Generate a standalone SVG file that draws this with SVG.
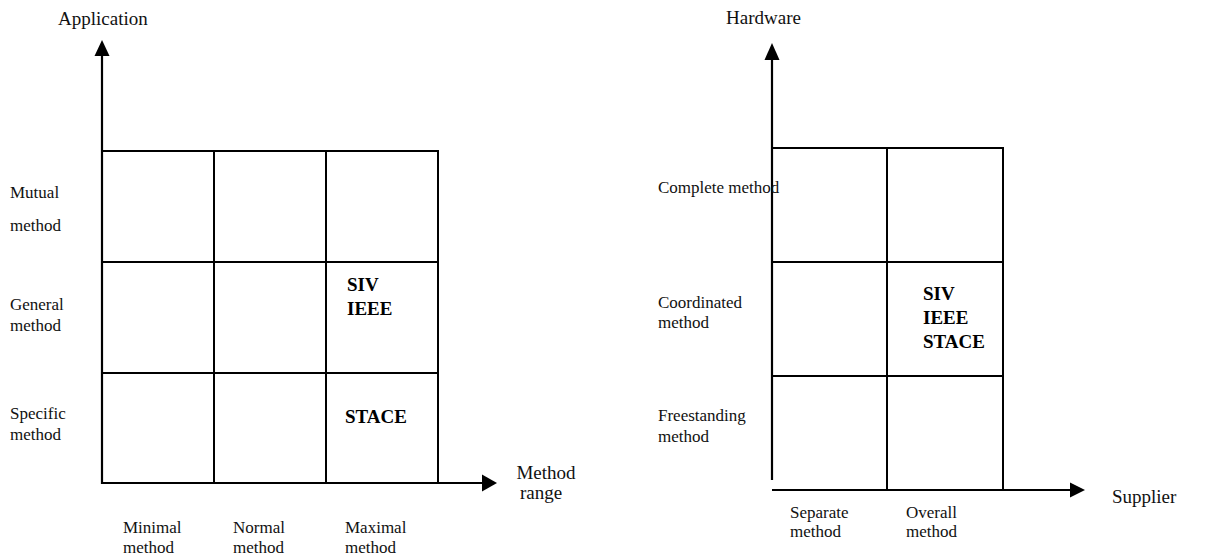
<svg xmlns="http://www.w3.org/2000/svg" width="1214" height="558" viewBox="0 0 1214 558">
  <style>
    .bg { fill: #ffffff; }
    .grid { stroke: #000; stroke-width: 2; fill: none; stroke-linecap: square; }
    .axis { stroke: #000; stroke-width: 2.2; fill: none; }
    .head { fill: #000; }
    .lbl { font-family: "Liberation Serif", "Times New Roman", serif; font-size: 17px; fill: #111; }
    .ttl { font-family: "Liberation Serif", "Times New Roman", serif; font-size: 19px; fill: #111; }
    .tag { font-family: "Liberation Serif", "Times New Roman", serif; font-size: 19px; font-weight: bold; fill: #000; }
  </style>
  <rect class="bg" x="0" y="0" width="1214" height="558"/>

  <!-- Axes with arrowheads -->
  <g id="connectors">
    <line class="axis" x1="102" y1="484" x2="102" y2="54"/>
    <polygon class="head" points="102,40 94.5,56 109.5,56"/>
    <line class="axis" x1="102" y1="483" x2="484" y2="483"/>
    <polygon class="head" points="497,483 482,474.5 482,491.5"/>

    <line class="axis" x1="772" y1="480" x2="772" y2="58"/>
    <polygon class="head" points="772,43 764.5,60 779.5,60"/>
    <line class="axis" x1="772" y1="490" x2="1072" y2="490"/>
    <polygon class="head" points="1085,490 1070,482.5 1070,497.5"/>
  </g>

  <!-- Left matrix: application vs method range -->
  <g id="matrix-left">
    <polyline class="grid" points="102,151 438,151 438,483"/>
    <line class="grid" x1="214" y1="151" x2="214" y2="483"/>
    <line class="grid" x1="326" y1="151" x2="326" y2="483"/>
    <line class="grid" x1="102" y1="262" x2="438" y2="262"/>
    <line class="grid" x1="102" y1="373" x2="438" y2="373"/>
  </g>

  <!-- Right matrix: hardware vs supplier -->
  <g id="matrix-right">
    <polyline class="grid" points="772,148 1003,148 1003,490"/>
    <line class="grid" x1="887" y1="148" x2="887" y2="490"/>
    <line class="grid" x1="772" y1="262" x2="1003" y2="262"/>
    <line class="grid" x1="772" y1="376" x2="1003" y2="376"/>
  </g>

  <!-- Left axis titles and row/column labels -->
  <g id="labels-left">
    <text class="ttl" x="58" y="25">Application</text>
    <text class="lbl" x="10" y="198">Mutual</text>
    <text class="lbl" x="10" y="231">method</text>
    <text class="lbl" x="10" y="310">General</text>
    <text class="lbl" x="10" y="331">method</text>
    <text class="lbl" x="10" y="419">Specific</text>
    <text class="lbl" x="10" y="440">method</text>
    <text class="lbl" x="123" y="533">Minimal</text>
    <text class="lbl" x="123" y="553">method</text>
    <text class="lbl" x="233" y="533">Normal</text>
    <text class="lbl" x="233" y="553">method</text>
    <text class="lbl" x="345" y="533">Maximal</text>
    <text class="lbl" x="345" y="553">method</text>
    <text class="ttl" x="546" y="479" text-anchor="middle">Method</text>
    <text class="ttl" x="541" y="499" text-anchor="middle">range</text>
  </g>

  <g id="cell-left-general-max">
    <text class="tag" x="347" y="291">SIV</text>
    <text class="tag" x="347" y="315">IEEE</text>
  </g>
  <g id="cell-left-specific-max">
    <text class="tag" x="345" y="423">STACE</text>
  </g>

  <!-- Right axis titles and row/column labels -->
  <g id="labels-right">
    <text class="ttl" x="726" y="24">Hardware</text>
    <text class="lbl" x="658" y="193">Complete method</text>
    <text class="lbl" x="658" y="308">Coordinated</text>
    <text class="lbl" x="658" y="328">method</text>
    <text class="lbl" x="658" y="421">Freestanding</text>
    <text class="lbl" x="658" y="442">method</text>
    <text class="lbl" x="790" y="518">Separate</text>
    <text class="lbl" x="790" y="537">method</text>
    <text class="lbl" x="906" y="518">Overall</text>
    <text class="lbl" x="906" y="537">method</text>
    <text class="ttl" x="1112" y="503">Supplier</text>
  </g>

  <g id="cell-right-coordinated-overall">
    <text class="tag" x="923" y="300">SIV</text>
    <text class="tag" x="923" y="324">IEEE</text>
    <text class="tag" x="923" y="348">STACE</text>
  </g>
</svg>
